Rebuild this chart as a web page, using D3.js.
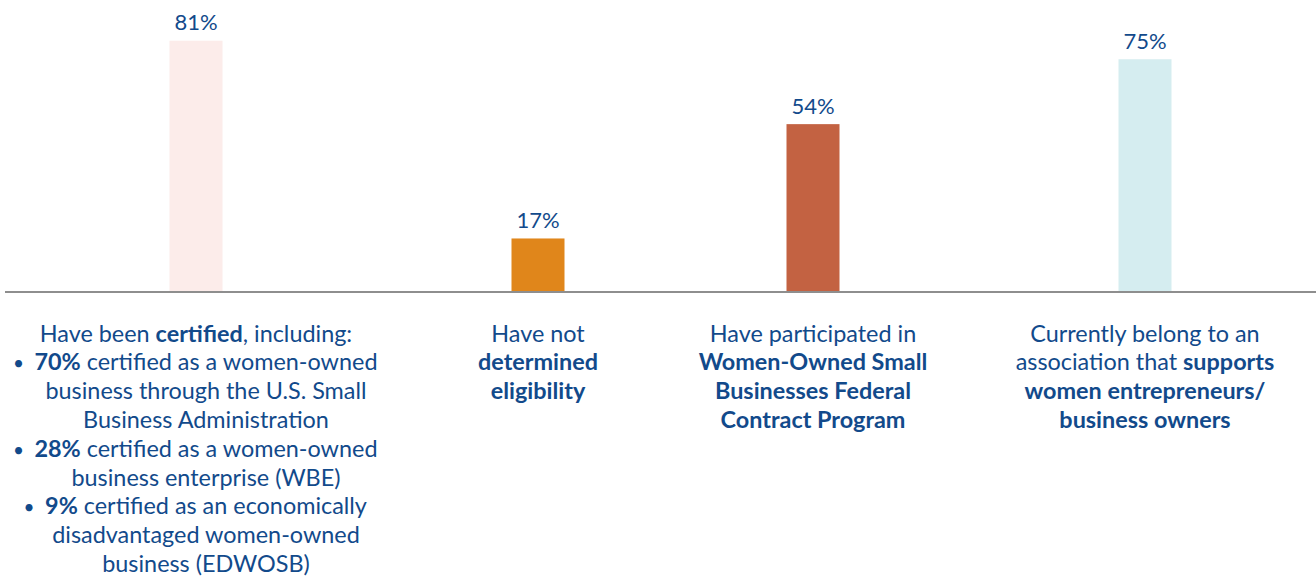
<!DOCTYPE html>
<html>
<head>
<meta charset="utf-8">
<script src="https://cdn.jsdelivr.net/npm/d3@7/dist/d3.min.js"></script>
<style>
  html, body { margin: 0; padding: 0; background: #fff; }
  svg { display: block; }
  text { font-family: "Lato", "Noto Sans", sans-serif; fill: #124a8b; }
</style>
</head>
<body>
<svg width="1316" height="577"></svg>
<script>
// data
var categories = ["certified", "notDetermined", "wosbProgram", "association"];
var values = [81, 17, 54, 75];
var barColors = ["#fcecea", "#e0861b", "#c36242", "#d5edf0"];

// category labels: each line is a list of [text, bold] runs; "item" lines start a bullet
var labels = [
  [
    {runs: [["Have been ", false], ["certified", true], [", including:", false]]},
    {item: true, runs: [["70%", true], [" certified as a women-owned", false]]},
    {list: true, runs: [["business through the U.S. Small", false]]},
    {list: true, runs: [["Business Administration", false]]},
    {item: true, runs: [["28%", true], [" certified as a women-owned", false]]},
    {list: true, runs: [["business enterprise (WBE)", false]]},
    {item: true, runs: [["9%", true], [" certified as an economically", false]]},
    {list: true, runs: [["disadvantaged women-owned", false]]},
    {list: true, runs: [["business (EDWOSB)", false]]}
  ],
  [
    {runs: [["Have not", false]]},
    {runs: [["determined", true]]},
    {runs: [["eligibility", true]]}
  ],
  [
    {runs: [["Have participated in", false]]},
    {runs: [["Women-Owned Small", true]]},
    {runs: [["Businesses Federal", true]]},
    {runs: [["Contract Program", true]]}
  ],
  [
    {runs: [["Currently belong to an", false]]},
    {runs: [["association that ", false], ["supports", true]]},
    {runs: [["women entrepreneurs/", true]]},
    {runs: [["business owners", true]]}
  ]
];

var data = categories.map(function(c, i) {
  return {key: c, value: values[i], color: barColors[i], label: labels[i]};
});

// layout
var svg = d3.select("svg"),
    baseline = 291,
    barWidth = 53,
    columnCenters = [196, 538, 813, 1145],
    listIndent = 10,
    lineHeight = 28.8,
    firstLine = 341.5;

var x = d3.scaleOrdinal()
    .domain(categories)
    .range(columnCenters);

var y = d3.scaleLinear()
    .domain([0, 100])
    .range([baseline, baseline - 309]);

var g = svg.append("g");

g.selectAll("rect.bar")
  .data(data)
  .enter().append("rect")
    .attr("class", "bar")
    .attr("x", function(d) { return x(d.key) - barWidth / 2; })
    .attr("y", function(d) { return y(d.value); })
    .attr("width", barWidth)
    .attr("height", function(d) { return y(0) - y(d.value); })
    .attr("fill", function(d) { return d.color; });

g.selectAll("text.value")
  .data(data)
  .enter().append("text")
    .attr("class", "value")
    .attr("x", function(d) { return x(d.key); })
    .attr("y", function(d) { return y(d.value) - 10.5; })
    .attr("text-anchor", "middle")
    .style("font-size", "22px")
    .text(function(d) { return d.value + "%"; });

// baseline
g.append("line")
    .attr("x1", 5)
    .attr("x2", 1316)
    .attr("y1", y(0) + 1)
    .attr("y2", y(0) + 1)
    .attr("stroke", "#8e8e8e")
    .attr("stroke-width", 2);

// category labels
data.forEach(function(d) {
  d.label.forEach(function(line, li) {
    var cx = x(d.key) + ((line.item || line.list) ? listIndent : 0),
        ly = firstLine + li * lineHeight;
    var t = g.append("text")
        .attr("x", cx)
        .attr("y", ly)
        .attr("text-anchor", "middle")
        .style("font-size", "23.4px");
    line.runs.forEach(function(r) {
      t.append("tspan")
        .style("font-weight", r[1] ? 700 : 400)
        .text(r[0]);
    });
    if (line.item) {
      var w = t.node().getComputedTextLength();
      g.append("text")
        .attr("x", cx - w / 2 - 16)
        .attr("y", ly)
        .attr("text-anchor", "middle")
        .style("font-size", "19px")
        .text("\u2022");
    }
  });
});
</script>
</body>
</html>
